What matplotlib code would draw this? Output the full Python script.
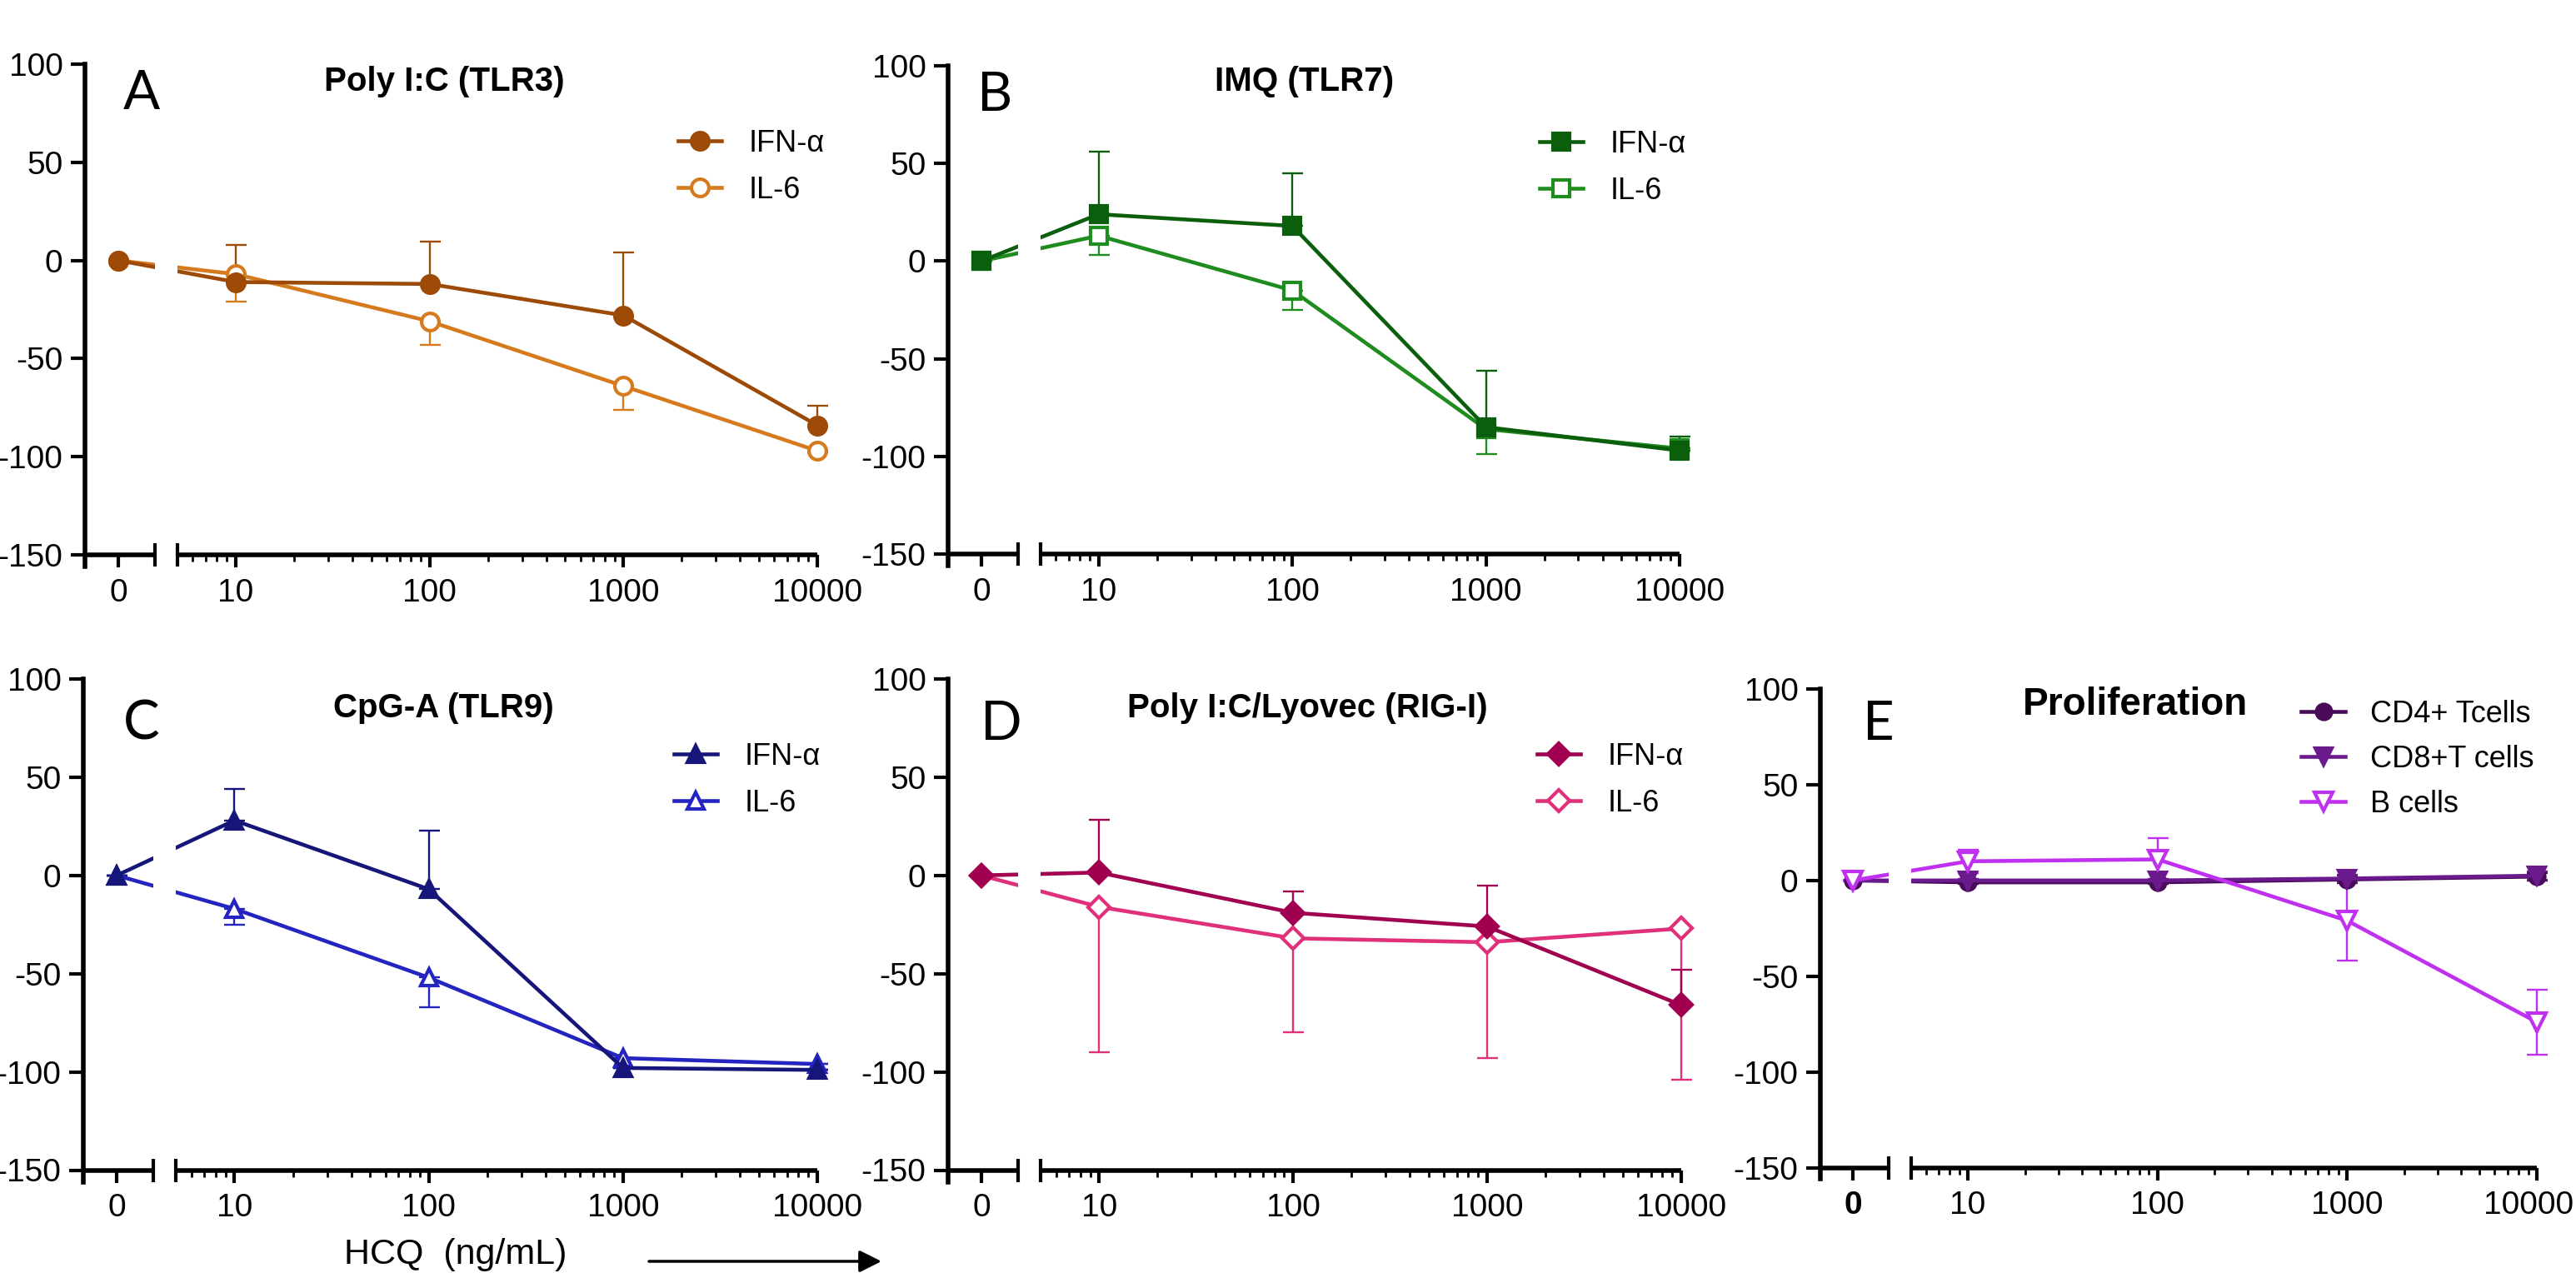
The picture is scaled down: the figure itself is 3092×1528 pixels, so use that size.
import numpy as np
import matplotlib
matplotlib.use("Agg")
import matplotlib.pyplot as plt
import matplotlib.transforms as mtransforms
from matplotlib.font_manager import FontProperties

# ---------------- data ----------------
dose = np.array([0, 10, 100, 1000, 10000])
tick_labels = ["0", "10", "100", "1000", "10000"]
y_ticks = [-150, -100, -50, 0, 50, 100]

A_ifn = [0, -11, -12, -28, -84]
A_ifn_err = [0, 19, 21.5, 32, 10]
A_il6 = [0, -7, -31, -64, -97]
A_il6_err = [0, 14, 12, 12, 1]

B_ifn = [0, 24, 18, -85, -97]
B_ifn_err = [0, 32, 27, 29, 7]
B_il6 = [0, 13, -15, -86, -96]
B_il6_err = [0, 10, 10, 13, 0]

C_ifn = [0, 28, -7, -98, -99]
C_ifn_err = [0, 16, 30, 0, 0]
C_il6 = [0, -17, -52, -93, -96]
C_il6_err = [0, 8, 15, 0, 0]

D_ifn = [0, 1.5, -19, -26, -66]
D_ifn_err = [0, 27, 11, 21, 18]
D_il6 = [0, -16, -32, -34, -27]
D_il6_err = [0, 74, 48, 59, 77]

E_cd4 = [0, -1, -1, 0.5, 2]
E_cd4_err = [0, 1, 1, 2, 2]
E_cd8 = [0, 0, 0, 1, 2.5]
E_cd8_err = [0, 1, 1, 2, 2]
E_b = [0, 10, 11, -21, -74]
E_b_err = [0, 6, 11, 21, 17]

# ---------------- layout helpers ----------------
W, H = 3092, 1528
DPI = 100
fig = plt.figure(figsize=(W / DPI, H / DPI), dpi=DPI)
plt.rcParams['font.family'] = ['Liberation Sans', 'DejaVu Sans']

XLEFT, XRIGHT = 0.222, 4.0
ZERO_POS = 0.394
BRK0, BRK1 = 0.584, np.log10(5)


def xpos(d):
    d = np.asarray(d, dtype=float)
    return np.where(d > 0, np.log10(np.where(d > 0, d, 1)), ZERO_POS)


minor_vals = np.concatenate([np.arange(6, 10), np.arange(20, 100, 10),
                             np.arange(200, 1000, 100), np.arange(2000, 10000, 1000)])


def make_ax(left, top, right, bottom, bold_zero=False, shift_last=False):
    ax = fig.add_axes([left / W, 1 - bottom / H, (right - left) / W, (bottom - top) / H])
    ax.set_xlim(XLEFT, XRIGHT)
    ax.set_ylim(-150, 100)
    for s in ['top', 'right', 'bottom']:
        ax.spines[s].set_visible(False)
    ax.spines['left'].set_linewidth(4)
    ax.spines['left'].set_bounds(-156, 100)
    ax.set_yticks(y_ticks)
    ax.set_yticklabels([str(v) for v in y_ticks])
    ax.set_xticks(xpos(dose))
    ax.set_xticklabels(tick_labels)
    ax.set_xticks(xpos(minor_vals), minor=True)
    ax.tick_params(axis='both', which='major', direction='out', length=11, width=3,
                   labelsize=28)
    ax.tick_params(axis='x', which='major', pad=9)
    ax.tick_params(axis='y', which='major', pad=7, length=12)
    ax.tick_params(axis='x', which='minor', direction='out', length=6, width=2)
    labels = ax.get_xticklabels()
    if bold_zero:
        labels[0].set_fontweight('bold')
    if shift_last:
        off = mtransforms.ScaledTranslation(-10 / DPI, 0, fig.dpi_scale_trans)
        labels[-1].set_transform(labels[-1].get_transform() + off)
    # broken x axis
    tr = ax.get_xaxis_transform()
    ax.plot([XLEFT, BRK0], [0, 0], color='black', lw=4, transform=tr, clip_on=False,
            solid_capstyle='butt', zorder=5)
    ax.plot([BRK1, XRIGHT], [0, 0], color='black', lw=4, transform=tr, clip_on=False,
            solid_capstyle='butt', zorder=5)
    ax.plot([BRK0, BRK1], [0, 0], ls='none', marker='|', ms=20, mew=3,
            color='black', transform=tr, clip_on=False, zorder=5)
    # gap of the data lines through the break
    ax.axvspan(BRK0, BRK1, color='white', zorder=2.5, lw=0)
    return ax


def series(ax, y, err, color, marker, filled, ms, direction, label, z):
    x = xpos(dose)
    err = np.asarray(err, dtype=float)
    zeros = np.zeros_like(err)
    if direction == 'up':
        yerr = [zeros, err]
    elif direction == 'down':
        yerr = [err, zeros]
    else:
        yerr = [err, err]
    eb = ax.errorbar(x, y, yerr=yerr, fmt='none', ecolor=color, elinewidth=1.7,
                     capsize=9, capthick=1.7, zorder=1.9)
    for art in eb.lines[1] + eb.lines[2]:
        art.set_clip_on(False)
    line, = ax.plot(x, y, color=color, lw=3.3, marker=marker, ms=ms, mew=3,
                    mec=color, mfc=color if filled else 'white', zorder=z, label=label,
                    clip_on=False)
    return line


def legend(ax, handles, left, top, hl=1.44, tp=0.89, ls=0.57):
    ax.legend(handles=handles, loc='upper left',
              bbox_to_anchor=(left / W, 1 - top / H), bbox_transform=fig.transFigure,
              frameon=False, borderpad=0, borderaxespad=0, handlelength=hl,
              handletextpad=tp, labelspacing=ls,
              prop=FontProperties(family='Liberation Sans', size=26))


def title(x, y, text, size=29):
    fig.text(x / W, 1 - y / H, text, ha='center', va='baseline', fontsize=size,
             fontweight='bold')


def letter(x, y, text):
    fig.text(x / W, 1 - y / H, text, ha='left', va='baseline', fontsize=47,
             family=['Lato', 'DejaVu Sans'])


# ---------------- Panel A ----------------
axA = make_ax(102, 77, 981, 666)
l2 = series(axA, A_il6, A_il6_err, '#D67A1E', 'o', False, 15, 'down', 'IL-6', 2.0)
l1 = series(axA, A_ifn, A_ifn_err, '#9C4A06', 'o', True, 15, 'up', 'IFN-α', 2.1)
legend(axA, [l1, l2], 814, 155)
title(533, 109, 'Poly I:C (TLR3)')
letter(148, 131, 'A')

# ---------------- Panel B ----------------
axB = make_ax(1138, 79, 2016, 665)
l2 = series(axB, B_il6, B_il6_err, '#1E8C1E', 's', False, 14, 'down', 'IL-6', 2.0)
l1 = series(axB, B_ifn, B_ifn_err, '#0B5E0B', 's', True, 14, 'up', 'IFN-α', 2.1)
legend(axB, [l1, l2], 1848, 156)
title(1566, 109, 'IMQ (TLR7)')
letter(1173, 133, 'B')

# ---------------- Panel C ----------------
axC = make_ax(100, 815, 981, 1404.5)
l2 = series(axC, C_il6, C_il6_err, '#2424C0', '^', False, 15, 'down', 'IL-6', 2.0)
l1 = series(axC, C_ifn, C_ifn_err, '#16167A', '^', True, 15, 'up', 'IFN-α', 2.1)
legend(axC, [l1, l2], 809, 891)
title(532, 861, 'CpG-A (TLR9)')
letter(148, 888, 'C')

# ---------------- Panel D ----------------
axD = make_ax(1138, 815, 2018, 1404.5)
l2 = series(axD, D_il6, D_il6_err, '#E0307A', 'D', False, 13, 'down', 'IL-6', 2.0)
l1 = series(axD, D_ifn, D_ifn_err, '#A0004F', 'D', True, 13, 'up', 'IFN-α', 2.1)
legend(axD, [l1, l2], 1845, 891)
title(1569, 861, 'Poly I:C/Lyovec (RIG-I)')
letter(1177, 888, 'D')

# ---------------- Panel E ----------------
axE = make_ax(2185, 827, 3045, 1401.5, bold_zero=True, shift_last=True)
l1 = series(axE, E_cd4, E_cd4_err, '#4A0A5A', 'o', True, 13, 'both', 'CD4+ Tcells', 2.0)
l2 = series(axE, E_cd8, E_cd8_err, '#6B1A8E', 'v', True, 14, 'both', 'CD8+T cells', 2.1)
l3 = series(axE, E_b, E_b_err, '#C030F0', 'v', False, 16, 'both', 'B cells', 2.2)
legend(axE, [l1, l2, l3], 2762, 840, hl=1.47, tp=0.83, ls=0.52)
title(2563, 858, 'Proliferation', size=33)
letter(2236, 888, 'E')

# ---------------- x label and arrow ----------------
fig.text(547 / W, 11 / H, 'HCQ  (ng/mL)', ha='center', va='baseline', fontsize=31)
axC.annotate('', xy=(1058, 14), xytext=(779, 14), xycoords='figure pixels',
             textcoords='figure pixels',
             arrowprops=dict(arrowstyle='-|>', lw=2.5, color='black', mutation_scale=40,
                             shrinkA=0, shrinkB=0))

fig.savefig('out.png', dpi=DPI)
